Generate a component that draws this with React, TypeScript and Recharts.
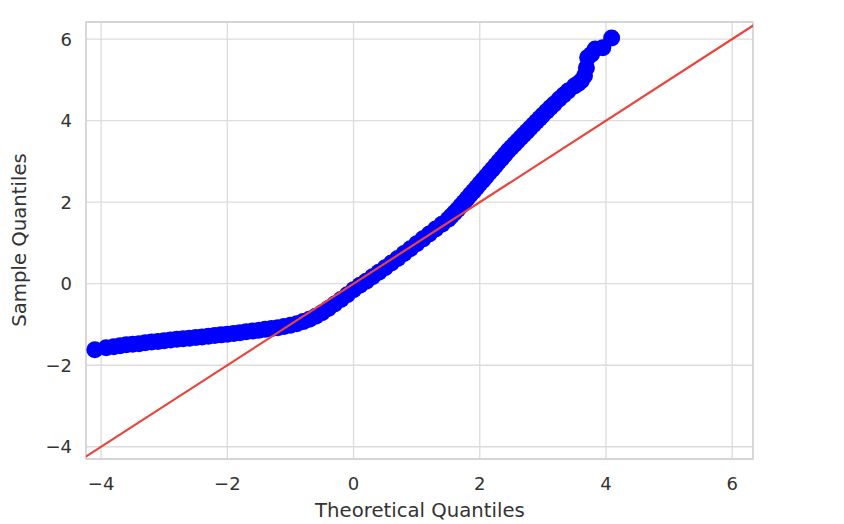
import React from 'react';
import { ScatterChart, Scatter, XAxis, YAxis, CartesianGrid, ReferenceArea, Label } from 'recharts';

const theoreticalQuantiles = [
  -4.10, -3.92, -3.80, -3.70, -3.60, -3.50, -3.40, -3.30, -3.20, -3.10,
  -3.00, -2.90, -2.80, -2.70, -2.60, -2.50, -2.40, -2.30, -2.20, -2.10,
  -2.00, -1.90, -1.80, -1.70, -1.60, -1.50, -1.40, -1.30, -1.20, -1.10,
  -1.00, -0.90, -0.80, -0.70, -0.60, -0.50, -0.40, -0.30, -0.20, -0.10,
  0.00, 0.10, 0.20, 0.30, 0.40, 0.50, 0.60, 0.70, 0.80, 0.90,
  1.00, 1.10, 1.20, 1.30, 1.40, 1.50, 1.55, 1.60, 1.65, 1.70,
  1.75, 1.80, 1.85, 1.90, 1.95, 2.00, 2.05, 2.10, 2.15, 2.20,
  2.25, 2.30, 2.35, 2.40, 2.45, 2.50, 2.55, 2.60, 2.65, 2.70,
  2.75, 2.80, 2.85, 2.90, 2.95, 3.00, 3.06, 3.12, 3.18, 3.26,
  3.33, 3.40, 3.50, 3.56, 3.61, 3.66, 3.69, 3.71, 3.77, 3.83, 3.95, 4.09,
];

const sampleQuantiles = [
  -1.62, -1.57, -1.545, -1.52, -1.50, -1.485, -1.47, -1.45, -1.43, -1.415,
  -1.40, -1.38, -1.365, -1.35, -1.335, -1.32, -1.305, -1.29, -1.27, -1.255,
  -1.24, -1.22, -1.20, -1.18, -1.16, -1.14, -1.12, -1.10, -1.08, -1.05,
  -1.02, -0.98, -0.93, -0.87, -0.80, -0.71, -0.61, -0.50, -0.39, -0.27,
  -0.15, -0.04, 0.06, 0.17, 0.28, 0.39, 0.51, 0.62, 0.74, 0.86,
  0.98, 1.10, 1.22, 1.34, 1.46, 1.58, 1.66, 1.74, 1.82, 1.91,
  2.00, 2.09, 2.18, 2.27, 2.36, 2.45, 2.54, 2.63, 2.72, 2.81,
  2.90, 2.99, 3.08, 3.17, 3.26, 3.34, 3.42, 3.50, 3.58, 3.66,
  3.74, 3.82, 3.90, 3.98, 4.06, 4.14, 4.23, 4.32, 4.41, 4.53,
  4.63, 4.73, 4.85, 4.91, 4.98, 5.10, 5.30, 5.55, 5.63, 5.76, 5.79, 6.03,
];

const xTicks = [-4, -2, 0, 2, 4, 6];
const yTicks = [-4, -2, 0, 2, 4, 6];
const xDomain = [-4.24, 6.33];
const yDomain = [-4.30, 6.42];
const lineEnds = [-4.30, 6.42];

const points = theoreticalQuantiles.map((x, i) => ({ x, y: sampleQuantiles[i] }));
const linePoints = lineEnds.map((v) => ({ x: v, y: v }));

const fmt = (v: number) => (v < 0 ? `\u2212${Math.abs(v)}` : `${v}`);
const FONT = 'DejaVu Sans, sans-serif';

const Dot = (props: any) => <circle cx={props.cx} cy={props.cy} r={8.5} fill="#0000ff" />;
const NoDot = () => <g />;

export default function App() {
  return (
    <div style={{ position: 'absolute', left: 0, top: 0 }}>
      <ScatterChart width={844} height={524} margin={{ top: 22, right: 91, bottom: 15, left: 26 }}>
        <CartesianGrid stroke="#dcdcdc" strokeWidth={1.3} />
        <ReferenceArea x1={xDomain[0]} x2={xDomain[1]} y1={yDomain[0]} y2={yDomain[1]} fill="none" stroke="#d0d0d0" strokeWidth={1.3} ifOverflow="visible" />
        <XAxis
          type="number"
          dataKey="x"
          domain={xDomain}
          allowDataOverflow
          ticks={xTicks}
          tickFormatter={fmt}
          axisLine={false}
          tickLine={false}
          tickSize={0}
          tickMargin={18}
          height={50}
          tick={{ fill: '#333333', fontSize: 18, fontFamily: FONT }}
        >
          <Label
            content={() => (
              <text x={420} y={517} textAnchor="middle" fill="#333333" fontSize={19.7} fontFamily={FONT}>
                Theoretical Quantiles
              </text>
            )}
          />
        </XAxis>
        <YAxis
          type="number"
          dataKey="y"
          domain={yDomain}
          allowDataOverflow
          ticks={yTicks}
          tickFormatter={fmt}
          axisLine={false}
          tickLine={false}
          tickSize={0}
          tickMargin={14}
          width={60}
          tick={{ fill: '#333333', fontSize: 18, fontFamily: FONT }}
        >
          <Label
            content={() => (
              <text x={26} y={240} transform="rotate(-90 26 240)" textAnchor="middle" fill="#333333" fontSize={19.7} fontFamily={FONT}>
                Sample Quantiles
              </text>
            )}
          />
        </YAxis>
        <Scatter data={points} shape={Dot} isAnimationActive={false} />
        <Scatter data={linePoints} shape={NoDot} line={{ stroke: '#e8453c', strokeWidth: 2.2 }} isAnimationActive={false} />
      </ScatterChart>
    </div>
  );
}
